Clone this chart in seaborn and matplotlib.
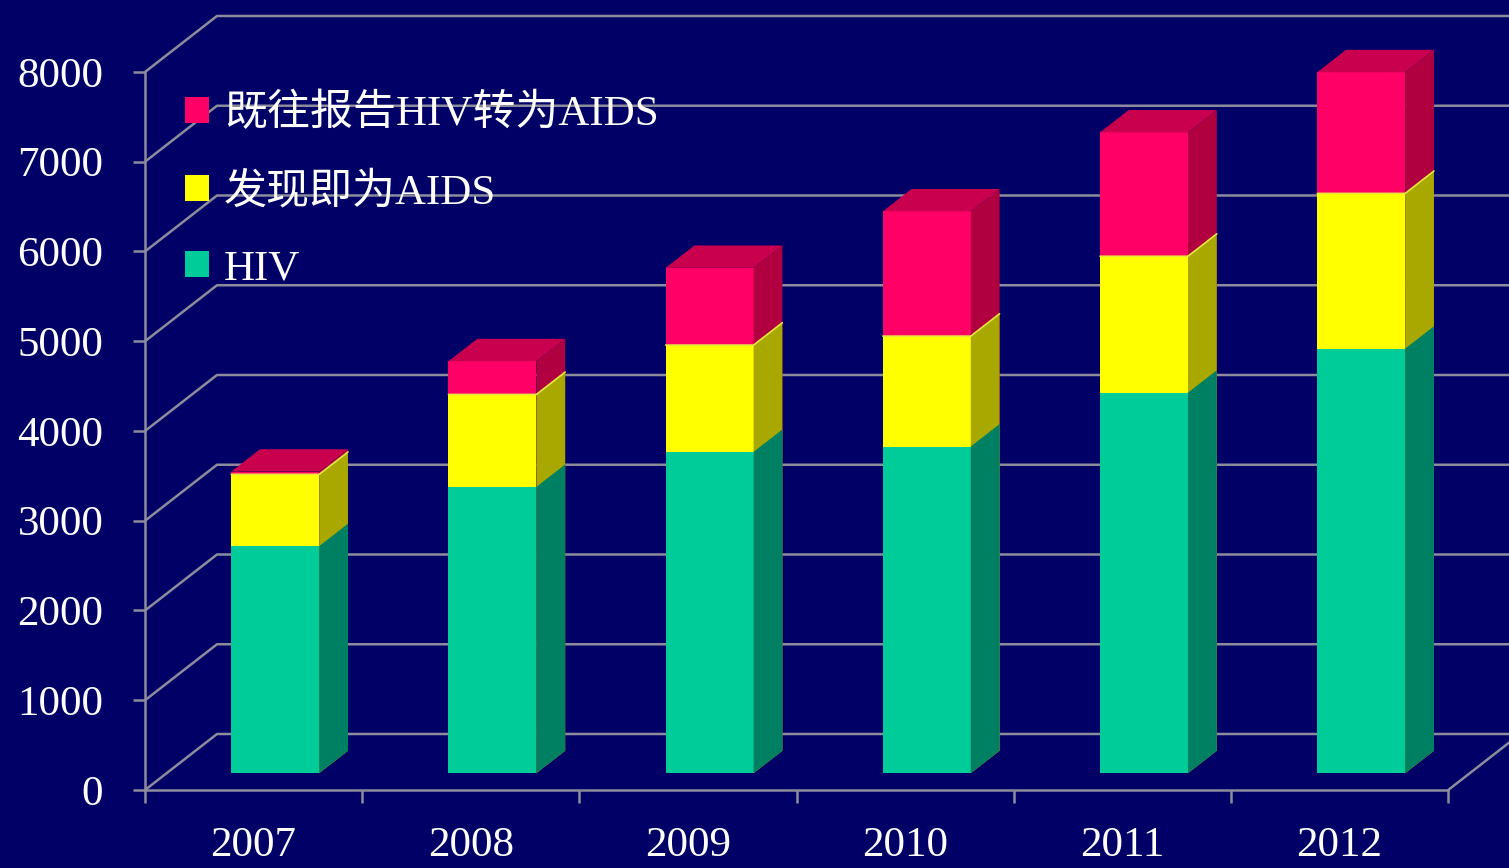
import matplotlib
matplotlib.use("Agg")
import matplotlib.pyplot as plt
from matplotlib.patches import Polygon, Patch
import numpy as np
import pandas as pd
import seaborn as sns

# ---- data ----
years = ["2007", "2008", "2009", "2010", "2011", "2012"]
hiv = [2530, 3190, 3580, 3640, 4240, 4730]
aids_found = [800, 1030, 1190, 1230, 1520, 1730]
hiv_to_aids = [30, 370, 860, 1390, 1380, 1350]
legend_labels = ["既往报告HIV转为AIDS", "发现即为AIDS", "HIV"]
y_ticks = [0, 1000, 2000, 3000, 4000, 5000, 6000, 7000, 8000]

# ---- style ----
bg = "#000066"
grid_col = "#8c8c9c"
front = ["#FF0066", "#FFFF00", "#00CC99"]
side = ["#B0003F", "#A8A800", "#008062"]
top_col = "#C8004E"

sns.set_style("dark", {"axes.facecolor": bg, "figure.facecolor": bg})
plt.rcParams["font.family"] = ["Liberation Serif", "Noto Sans CJK SC", "DejaVu Sans"]

fig = plt.figure(figsize=(15.09, 8.68), dpi=100)
ax = fig.add_axes([0, 0, 1, 1])
ax.set_facecolor(bg)

# pixel layout -> data limits (front plane: x=-0.5 at px 145, step 217.2 px; y=0 at px 790, 11.142 units/px)
ax.set_xlim(-1.1676, 5.78)
ax.set_ylim(-869, 8802)

# 3-D depth vector of the whole floor, in data units
DX, DY = 0.3315, 624.0
BAR_Z0, BAR_DEPTH = 0.3, 0.4
bar_w = 0.405

df = pd.DataFrame({"year": years, "hiv": hiv, "found": aids_found, "conv": hiv_to_aids})
df["c_green"] = df["hiv"]
df["c_yellow"] = df["hiv"] + df["found"]
df["c_red"] = df["c_yellow"] + df["conv"]

# ---- walls / gridlines ----
x_end = ax.get_xlim()[1]
for v in y_ticks:
    ax.plot([-0.5, -0.5 + DX, x_end], [v, v + DY, v + DY], color=grid_col, lw=1.8, zorder=1,
            solid_capstyle="butt")
ax.plot([5.5, 5.5 + DX], [0, DY], color=grid_col, lw=1.8, zorder=1)

# ---- bars (cumulative, tallest first) ----
ox, oy = BAR_Z0 * DX, BAR_Z0 * DY
sx, sy = BAR_DEPTH * DX, BAR_DEPTH * DY
for k, col in enumerate(["c_red", "c_yellow", "c_green"]):
    n0 = len(ax.patches)
    sns.barplot(data=df, x="year", y=col, order=years, color=front[k], saturation=1,
                width=bar_w, ax=ax, zorder=3 + k, linewidth=0)
    for p in ax.patches[n0:]:
        p.set_x(p.get_x() + ox)
        p.set_y(p.get_y() + oy)
        xl, xr = p.get_x(), p.get_x() + p.get_width()
        y0, y1 = p.get_y(), p.get_y() + p.get_height()
        ax.add_patch(Polygon([(xr, y0), (xr + sx, y0 + sy), (xr + sx, y1 + sy), (xr, y1)],
                             closed=True, facecolor=side[k], edgecolor="none", zorder=3 + k))
        if k == 0:
            ax.add_patch(Polygon([(xl, y1), (xr, y1), (xr + sx, y1 + sy), (xl + sx, y1 + sy)],
                                 closed=True, facecolor=top_col, edgecolor="none", zorder=3 + k))
        if k == 1:
            ax.plot([xl, xr, xr + sx], [y1, y1, y1 + sy], color="#E8E840", lw=1.2, zorder=3.5 + k)

ax.set_xlim(-1.1676, 5.78)
ax.set_ylim(-869, 8802)

# ---- axes ----
for s in ["top", "right"]:
    ax.spines[s].set_visible(False)
ax.spines["left"].set_position(("data", -0.5))
ax.spines["left"].set_bounds(0, 8000)
ax.spines["bottom"].set_position(("data", 0))
ax.spines["bottom"].set_bounds(-0.5, 5.5)
for s in ["left", "bottom"]:
    ax.spines[s].set_visible(True)
    ax.spines[s].set_color(grid_col)
    ax.spines[s].set_linewidth(1.8)
    ax.spines[s].set_zorder(2)

ax.set_yticks(y_ticks)
ax.set_yticklabels([str(v) for v in y_ticks])
ax.tick_params(axis="y", colors=grid_col, length=9, width=1.8, direction="out", pad=21,
               labelcolor="white", labelsize=31, left=True)
ax.set_xticks(range(len(years)))
ax.set_xticklabels(years)
ax.set_xticks(np.arange(-0.5, len(years)), minor=True)
ax.tick_params(axis="x", which="major", length=0, pad=26, labelcolor="white", labelsize=31)
ax.tick_params(axis="x", which="minor", length=9, width=1.8, color=grid_col, direction="out", bottom=True)
ax.set_xlabel("")
ax.set_ylabel("")
ax.grid(False)

# ---- legend ----
handles = [Patch(facecolor=c, edgecolor="none") for c in front]
ax.legend(handles, legend_labels, loc="upper left", bbox_to_anchor=(185 / 1509, 1 - 94 / 868),
          frameon=False, fontsize=31, labelcolor="white", handlelength=0.55, handleheight=0.55,
          handletextpad=0.35, labelspacing=0.88, borderpad=0, borderaxespad=0)

fig.savefig("out.png", dpi=100, facecolor=bg)
